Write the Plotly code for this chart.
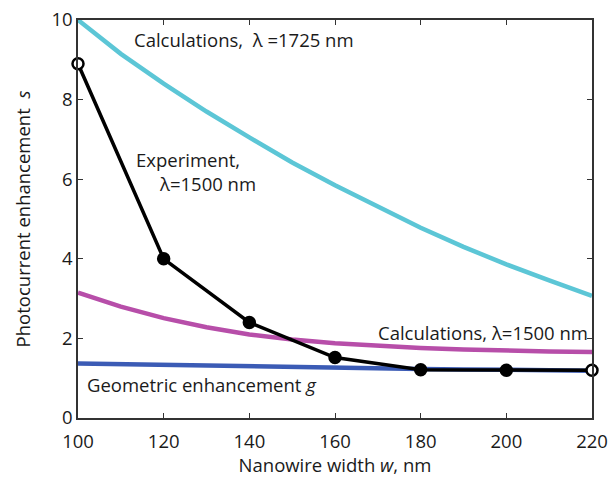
import plotly.graph_objects as go

# Data
w_exp = [100, 120, 140, 160, 180, 200, 220]
s_exp = [8.9, 4.0, 2.4, 1.52, 1.21, 1.2, 1.2]

w_calc = [100, 110, 120, 130, 140, 150, 160, 170, 180, 190, 200, 210, 220]
s_1725 = [10.0, 9.15, 8.4, 7.7, 7.05, 6.42, 5.85, 5.3, 4.78, 4.3, 3.86, 3.46, 3.07]
s_1500 = [3.15, 2.8, 2.51, 2.28, 2.1, 1.97, 1.88, 1.81, 1.76, 1.72, 1.69, 1.67, 1.66]
g_geom = [1.37, 1.35, 1.33, 1.31, 1.29, 1.275, 1.26, 1.245, 1.23, 1.22, 1.21, 1.2, 1.19]

x_ticks = [100, 120, 140, 160, 180, 200, 220]
y_ticks = [0, 2, 4, 6, 8, 10]

FONT = "Open Sans"
TXT = "#1a1a1a"

fig = go.Figure()
fig.add_trace(go.Scatter(x=w_calc, y=s_1725, mode="lines",
                         line=dict(color="#5cc6d6", width=4.5), cliponaxis=False))
fig.add_trace(go.Scatter(x=w_calc, y=s_1500, mode="lines",
                         line=dict(color="#b74ea9", width=4.5), cliponaxis=False))
fig.add_trace(go.Scatter(x=w_calc, y=g_geom, mode="lines",
                         line=dict(color="#3b5bb5", width=4.5), cliponaxis=False))
marker_fill = ["white"] + ["black"] * (len(w_exp) - 2) + ["white"]
fig.add_trace(go.Scatter(x=w_exp, y=s_exp, mode="lines+markers",
                         line=dict(color="black", width=3.5),
                         marker=dict(size=11, color=marker_fill,
                                     line=dict(color="black", width=2.5)),
                         cliponaxis=False))

ann_font = dict(family=FONT, size=18.5, color=TXT)
fig.add_annotation(x=112.5, y=9.52, text="Calculations,  λ =1725 nm", showarrow=False,
                   xanchor="left", yanchor="middle", font=ann_font)
fig.add_annotation(x=113.0, y=6.2, align="left",
                   text="Experiment,<br>&nbsp;&nbsp;&nbsp;&nbsp;&nbsp;λ=1500 nm",
                   showarrow=False, xanchor="left", yanchor="middle", font=ann_font)
fig.add_annotation(x=219.5, y=2.14, text="Calculations, λ=1500 nm", showarrow=False,
                   xanchor="right", yanchor="middle", font=ann_font)
fig.add_annotation(x=101.6, y=0.83, text="Geometric enhancement <i>g</i>", showarrow=False,
                   xanchor="left", yanchor="middle", font=ann_font)

axis_common = dict(showline=True, linecolor="#333", linewidth=1.5, mirror="ticks",
                   ticks="inside", ticklen=5, tickwidth=1.2, tickcolor="#333",
                   showgrid=False, zeroline=False, automargin=False,
                   tickfont=dict(family=FONT, size=18.5, color=TXT))

fig.update_xaxes(range=[100, 220], tickvals=x_ticks, ticklabelstandoff=6,
                 title=dict(text="Nanowire width <i>w</i>, nm",
                            font=dict(family=FONT, size=18.5, color=TXT), standoff=4),
                 **axis_common)
fig.update_yaxes(range=[0, 10], tickvals=y_ticks,
                 title=dict(text="Photocurrent enhancement  <i>s</i>",
                            font=dict(family=FONT, size=18.5, color=TXT), standoff=16),
                 **axis_common)

fig.update_layout(width=609, height=477, showlegend=False,
                  margin=dict(l=78, r=17, t=20, b=59),
                  plot_bgcolor="white", paper_bgcolor="white")

fig.write_html("out.html")
